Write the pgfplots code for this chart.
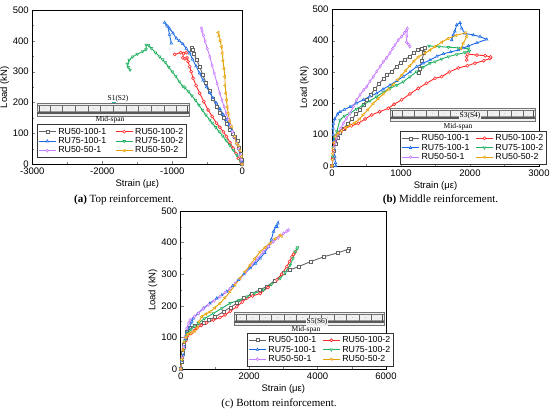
\documentclass[border=0pt]{standalone}
\usepackage{fontspec}
\setmainfont{Liberation Sans}
\newfontfamily\capfont{Liberation Serif}
\usepackage{pgfplots}
\pgfplotsset{compat=1.18}
\definecolor{cgray}{RGB}{100,100,100}
\definecolor{cred}{RGB}{255,40,40}
\definecolor{cblue}{RGB}{25,105,230}
\definecolor{cgreen}{RGB}{30,175,95}
\definecolor{cviolet}{RGB}{200,125,255}
\definecolor{corange}{RGB}{230,160,0}
\definecolor{cteal}{RGB}{40,170,170}
\pgfplotsset{
  panel/.style={
    scale only axis,
    axis line style={line width=0.6pt},
    xtick pos=bottom, ytick pos=left, tick align=inside,
    minor x tick num=1, minor y tick num=1,
    major tick length=3pt, minor tick length=1.8pt,
    ymin=0, ymax=500, ytick={0,100,...,500},
    /pgf/number format/assume math mode=true,
    /pgf/number format/1000 sep={},
    tick label style={font=\fontsize{9.5}{10}\selectfont},
    label style={font=\fontsize{9.5}{10}\selectfont},
    xlabel style={yshift=2pt},
    ylabel shift={-3pt},
    ylabel={Load (kN)}, xlabel={Strain (με)},
    legend columns=2,
    legend cell align=left,
    legend style={font=\fontsize{8.8}{9.2}\selectfont, draw=black!80, line width=0.5pt,
      inner sep=1.2pt, row sep=-2.2pt, anchor=north west,
      /tikz/every even column/.append style={column sep=4pt}},
    every axis plot/.append style={line width=0.9pt, mark size=1.5pt},
  },
  sgray/.style={cgray, mark=square*, mark options={solid, fill=white, line width=0.6pt}},
  sred/.style={cred, mark=*, mark options={solid, fill=white, line width=0.6pt}},
  sblue/.style={cblue, mark=triangle*, mark options={solid, fill=white, line width=0.6pt}},
  sgreen/.style={cgreen, mark=triangle*, mark options={solid, fill=white, line width=0.6pt, rotate=180}},
  sviolet/.style={cviolet, mark=diamond*, mark options={solid, fill=white, line width=0.6pt}},
  sorange/.style={corange, mark=triangle*, mark options={solid, fill=white, line width=0.6pt, rotate=90}},
}
\newcommand{\beam}[4]{%
  \begin{scope}[shift={(#1,#2)}]
    \fill[black!6] (0,0) rectangle (#3,-#4);
    \draw[black!55, line width=0.4pt] (0,0) rectangle (#3,-#4);
    \draw[black!55, line width=0.3pt] (0,-0.2*#4) -- (#3,-0.2*#4);
    \fill[black!65] (0,-0.72*#4) rectangle (#3,-0.86*#4);
    \draw[black!40, line width=0.3pt] (0,-0.64*#4) -- (#3,-0.64*#4);
    \foreach \i in {1,...,11} {
      \draw[black!60, line width=0.3pt] ({\i*#3/12},-0.2*#4) -- ({\i*#3/12},-0.72*#4);
      \fill[black!40] ({(\i-0.5)*#3/12},-0.42*#4) circle (0.3pt);
    }
    \draw[black!70, line width=0.3pt] (2,-0.2*#4) -- (2,-0.72*#4);
    \draw[black!70, line width=0.3pt] (#3-2,-0.2*#4) -- (#3-2,-0.72*#4);
  \end{scope}}
\begin{document}
\begin{tikzpicture}[x=1pt,y=1pt]
\path[use as bounding box] (0,0) rectangle (550,415);
% ---------------- (a) ----------------
\begin{axis}[panel, at={(32.3pt,250.7pt)}, anchor=south west, width=210pt, height=154.3pt,
  xmin=-3000, xmax=0, xtick={-3000,-2000,-1000,0},
  legend style={at={(0.022,0.258)}, /tikz/every even column/.append style={column sep=7pt}}]
\addplot[sgray] coordinates {(0,0)(-10,15)(-25,35)(-45,55)(-70,75)(-100,90)(-130,100)(-177,113)(-220,130)(-270,150)(-320,168)(-368,187)(-420,213)(-470,238)(-520,265)(-565,290)(-608,316)(-650,338)(-690,358)(-715,370)(-727,378)(-712,372)};
\addlegendentry{RU50-100-1}
\addplot[sred] coordinates {(0,0)(-20,8)(-57,19)(-90,35)(-129,52)(-175,70)(-225,90)(-270,105)(-320,120)(-368,133)(-430,155)(-488,176)(-550,203)(-608,230)(-660,255)(-703,279)(-730,300)(-751,316)(-775,333)(-790,345)(-820,342)(-850,345)(-840,358)(-800,362)(-880,362)(-966,356)};
\addlegendentry{RU50-100-2}
\addplot[sblue] coordinates {(0,0)(-10,10)(-30,30)(-55,50)(-81,68)(-115,90)(-150,110)(-190,128)(-225,144)(-270,160)(-320,180)(-370,198)(-420,215)(-464,232)(-510,250)(-560,272)(-610,295)(-660,318)(-710,340)(-751,360)(-800,375)(-850,390)(-900,400)(-943,408)(-990,425)(-1040,440)(-1080,450)(-1110,459)(-1062,446)(-1040,420)(-1014,392)};
\addlegendentry{RU75-100-1}
\addplot[sgreen] coordinates {(0,0)(-33,14)(-80,30)(-129,46)(-180,62)(-230,77)(-280,92)(-330,106)(-380,120)(-430,134)(-464,144)(-520,160)(-570,176)(-620,192)(-670,208)(-720,222)(-770,236)(-820,248)(-847,252)(-900,268)(-950,285)(-1000,300)(-1050,315)(-1100,330)(-1140,340)(-1182,349)(-1240,362)(-1301,376)(-1340,386)(-1373,387)(-1375,372)(-1421,366)(-1500,357)(-1565,349)(-1615,338)(-1640,325)(-1630,315)(-1603,306)};
\addlegendentry{RU75-100-2}
\addplot[sviolet] coordinates {(0,0)(-15,15)(-30,30)(-55,50)(-81,68)(-110,88)(-140,105)(-170,125)(-201,144)(-230,165)(-260,187)(-290,208)(-321,230)(-360,262)(-400,295)(-430,320)(-464,349)(-500,375)(-530,398)(-555,418)(-575,432)(-584,441)};
\addlegendentry{RU50-50-1}
\addplot[sorange] coordinates {(0,0)(-10,25)(-30,45)(-55,60)(-81,68)(-110,90)(-153,122)(-180,140)(-201,165)(-215,185)(-225,208)(-235,230)(-245,255)(-249,284)(-262,310)(-275,335)(-285,360)(-297,381)(-315,400)(-330,415)(-344,427)};
\addlegendentry{RU50-50-2}
\end{axis}
% ---------------- (b) ----------------
\begin{axis}[panel, at={(332pt,249pt)}, anchor=south west, width=207pt, height=156.7pt,
  xmin=0, xmax=3000, xtick={0,1000,2000,3000},
  legend style={at={(0.329,0.223)}}]
\addplot[sgray] coordinates {(0,0)(15,25)(30,50)(50,70)(80,90)(120,105)(170,120)(230,135)(290,150)(350,165)(410,180)(454,195)(500,211)(560,228)(620,245)(680,262)(744,278)(800,290)(865,301)(937,317)(1000,330)(1060,340)(1130,350)(1190,362)(1250,370)(1300,375)(1340,378)(1330,360)(1300,335)(1270,310)(1251,296)};
\addlegendentry{RU50-100-1}
\addplot[sred] coordinates {(0,0)(10,25)(20,50)(34,72)(60,90)(92,104)(140,113)(188,120)(280,128)(382,136)(480,150)(575,163)(690,173)(816,184)(900,197)(1010,211)(1130,230)(1251,248)(1370,264)(1493,280)(1589,285)(1700,300)(1830,313)(1960,320)(2072,328)(2200,336)(2290,343)(2300,348)(2220,352)(2100,354)(1970,357)(1952,349)(1952,338)};
\addlegendentry{RU50-100-2}
\addplot[sblue] coordinates {(55,0)(50,10)(40,30)(30,55)(25,80)(20,100)(15,120)(19,135)(40,150)(80,165)(116,173)(180,180)(261,189)(350,200)(454,211)(550,222)(647,232)(740,245)(841,258)(940,272)(1034,285)(1130,300)(1227,317)(1320,328)(1420,338)(1520,350)(1614,358)(1720,364)(1831,370)(1900,376)(1976,383)(2100,393)(2242,404)(2145,413)(2048,418)(1927,423)(1879,439)(1855,457)(1807,450)(1780,430)(1758,418)(1734,402)};
\addlegendentry{RU75-100-1}
\addplot[sgreen] coordinates {(0,0)(10,30)(20,60)(40,90)(70,110)(116,147)(180,160)(261,168)(354,182)(454,195)(550,208)(647,221)(740,235)(841,248)(940,258)(1034,269)(1130,285)(1227,301)(1320,315)(1420,328)(1493,333)(1590,342)(1686,349)(1810,356)(1927,362)(1990,367)(1976,374)(1830,377)(1686,379)(1550,381)(1406,383)};
\addlegendentry{RU75-100-2}
\addplot[sviolet] coordinates {(0,0)(10,20)(19,40)(30,60)(43,72)(65,90)(92,104)(125,120)(164,136)(210,152)(261,168)(310,190)(357,211)(406,227)(460,243)(502,253)(550,270)(599,285)(650,302)(700,318)(744,333)(790,345)(840,360)(880,375)(913,386)(961,402)(1010,413)(1050,425)(1080,433)(1092,439)(1085,415)(1080,395)(1110,388)(1130,381)};
\addlegendentry{RU50-50-1}
\addplot[sorange] coordinates {(0,0)(5,20)(10,40)(19,55)(30,75)(50,95)(90,105)(140,112)(200,122)(260,130)(333,138)(400,150)(454,164)(520,180)(599,200)(670,215)(744,230)(820,245)(889,260)(950,275)(1010,290)(1070,305)(1130,320)(1190,335)(1251,348)(1348,360)(1420,370)(1493,381)(1590,395)(1686,407)(1800,417)(1937,425)(1952,413)(1903,392)(1870,375)};
\addlegendentry{RU50-50-2}
\end{axis}
% ---------------- (c) ----------------
\begin{axis}[panel, at={(180.7pt,46pt)}, anchor=south west, width=205.3pt, height=158pt,
  xmin=0, xmax=6000, xtick={0,2000,4000,6000},
  legend style={at={(0.323,0.228)}}]
\addplot[sgray] coordinates {(0,0)(29,23)(60,50)(98,76)(140,100)(176,118)(273,130)(420,138)(663,145)(830,155)(1000,165)(1249,181)(1450,195)(1639,208)(1850,224)(2078,239)(2300,250)(2517,261)(2750,280)(3005,303)(3200,314)(3444,324)(3800,340)(4176,355)(4600,368)(4907,379)(4880,375)};
\addlegendentry{RU50-100-1}
\addplot[sred] coordinates {(0,0)(50,35)(100,65)(150,90)(200,105)(300,112)(400,122)(468,129)(600,138)(750,146)(956,155)(1150,163)(1298,171)(1450,183)(1639,197)(1800,212)(1932,224)(2100,231)(2322,239)(2550,258)(2810,282)(2950,300)(3102,324)(3180,340)(3249,355)(3300,363)(3346,370)};
\addlegendentry{RU50-100-2}
\addplot[sblue] coordinates {(0,0)(30,25)(78,44)(110,70)(140,95)(180,115)(254,129)(300,145)(322,150)(371,160)(500,175)(663,192)(850,208)(1054,224)(1200,234)(1346,245)(1520,263)(1688,282)(1850,300)(2029,319)(2180,334)(2322,350)(2450,368)(2566,387)(2650,410)(2712,435)(2780,450)(2839,461)(2810,450)};
\addlegendentry{RU75-100-1}
\addplot[sgreen] coordinates {(0,0)(40,30)(80,60)(120,90)(160,105)(200,113)(300,125)(400,135)(517,145)(700,160)(956,176)(1200,192)(1444,208)(1700,218)(1932,229)(2150,239)(2420,250)(2650,268)(2907,287)(3050,305)(3200,329)(3280,350)(3346,371)(3415,385)(3400,380)};
\addlegendentry{RU75-100-2}
\addplot[sviolet] coordinates {(0,0)(40,35)(80,70)(120,100)(176,129)(230,145)(273,155)(400,166)(517,176)(660,190)(810,203)(980,216)(1151,229)(1300,242)(1444,255)(1590,271)(1737,287)(1900,307)(2078,329)(2250,350)(2420,371)(2560,387)(2712,403)(2850,415)(3005,429)(3100,436)(3151,440)};
\addlegendentry{RU50-50-1}
\addplot[sorange] coordinates {(0,0)(30,30)(60,60)(100,85)(150,100)(200,110)(273,113)(350,117)(420,120)(480,130)(540,150)(615,166)(740,174)(859,181)(1000,194)(1151,208)(1300,226)(1444,245)(1590,266)(1737,287)(1880,308)(2029,329)(2170,350)(2322,371)(2470,385)(2615,398)(2760,412)(2907,424)(2950,420)};
\addlegendentry{RU50-50-2}
\end{axis}
% ---------------- insets ----------------
\beam{37}{312}{152}{13}
\fill[cteal] (112,311.5) rectangle (116,313);
\node[font=\capfont\fontsize{7.5}{7.5}\selectfont, inner sep=0pt] at (118,316.5) {S1(S2)};
\node[font=\capfont\fontsize{7.5}{7.5}\selectfont, inner sep=0pt] at (110,295) {Mid-span};
\beam{390}{307}{145}{13}
\fill[cteal] (459,296) rectangle (463,297.5);
\node[font=\capfont\fontsize{7.5}{7.5}\selectfont, inner sep=0.5pt, fill=black!6] at (470,299.5) {S3(S4)};
\node[font=\capfont\fontsize{7.5}{7.5}\selectfont, inner sep=0pt] at (458,288) {Mid-span};
\beam{234}{103}{150}{13}
\fill[cteal] (308,92) rectangle (312,93.5);
\node[font=\capfont\fontsize{7.5}{7.5}\selectfont, inner sep=0.5pt, fill=black!6] at (317,93) {S5(S6)};
\node[font=\capfont\fontsize{7.5}{7.5}\selectfont, inner sep=0pt] at (306,85.5) {Mid-span};
% ---------------- captions ----------------
\node[font=\capfont\fontsize{11}{12}\selectfont] at (124,215) {\textbf{(a)} Top reinforcement.};
\node[font=\capfont\fontsize{11}{12}\selectfont] at (440.5,215) {\textbf{(b)} Middle reinforcement.};
\node[font=\capfont\fontsize{11}{12}\selectfont] at (279,11) {(c) Bottom reinforcement.};
\end{tikzpicture}
\end{document}
